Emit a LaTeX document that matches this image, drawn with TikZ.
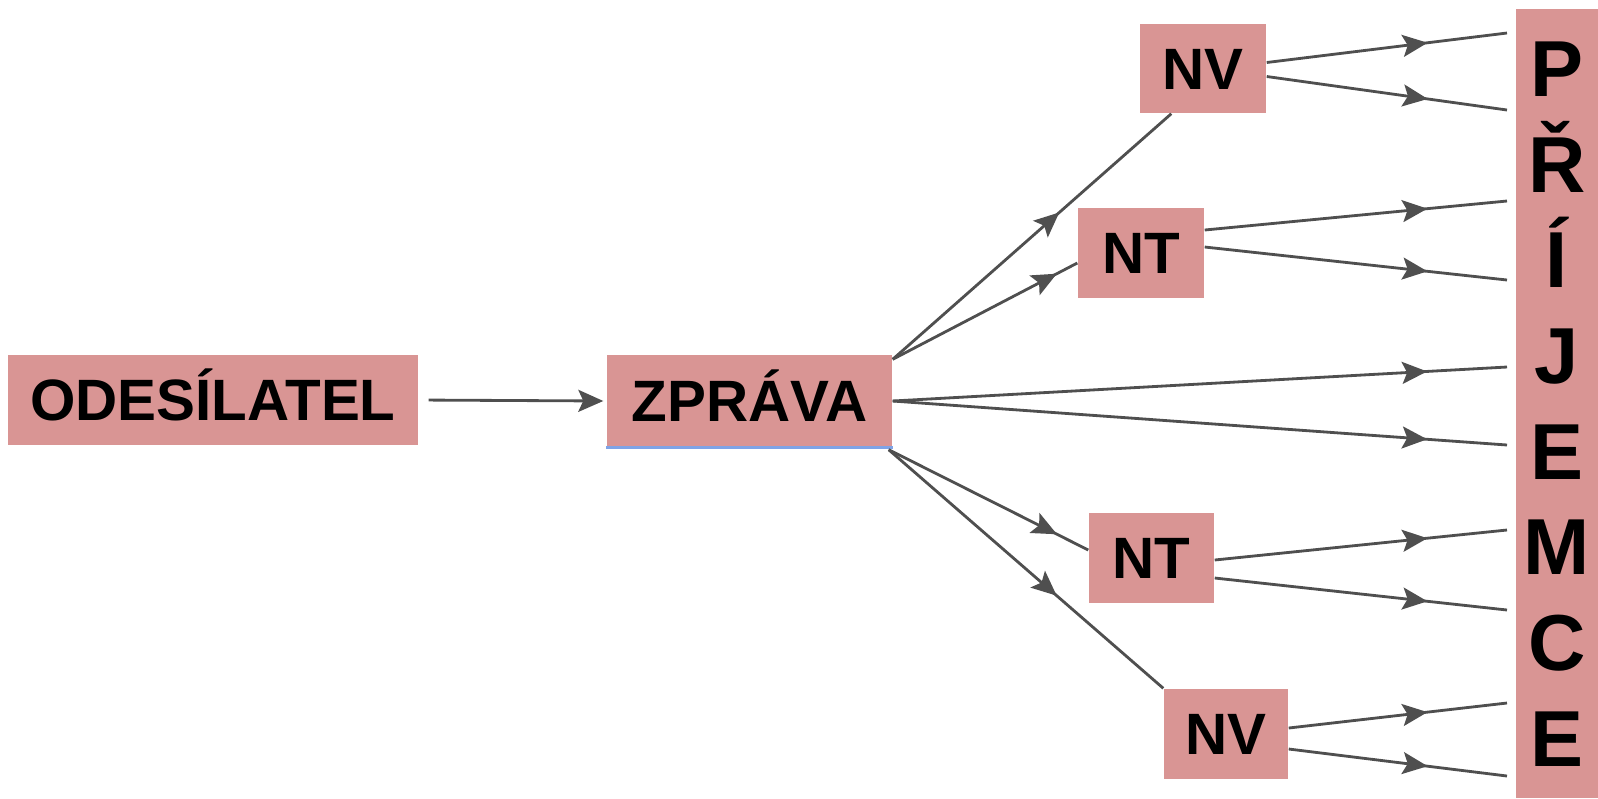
\documentclass[tikz,border=0pt]{standalone}
\usepackage{fontspec}
\setmainfont{Liberation Sans}
\usetikzlibrary{arrows.meta,decorations.markings}

\definecolor{boxred}{HTML}{D99594}
\definecolor{linegray}{HTML}{4F4F4F}
\definecolor{selblue}{HTML}{7FA3E6}

\tikzset{
  box/.style={fill=boxred, inner sep=0pt, text height=11.9pt, text depth=0pt,
    font=\fontsize{16.6}{20}\selectfont\bfseries},
  letter/.style={inner sep=0pt, text height=16.2pt, text depth=0pt,
    font=\fontsize{22.6}{26}\selectfont\bfseries},
  conn/.style={draw=linegray, line width=0.8pt},
  tip/.tip={Stealth[length=2.5mm, width=2.2mm, inset=0.5mm, linegray, fill=linegray]},
  midarr/.style={conn, postaction={decorate},
    decoration={markings, mark=at position #1 with {\arrow{tip}}}}
}

\begin{document}
\begin{tikzpicture}[x=0.1mm, y=-0.1mm]
\useasboundingbox (0,0) rectangle (1598,798);

% odesilatel a zprava
\node[box, minimum width=41mm, minimum height=9mm] (odes) at (213,400) {ODESÍLATEL};
\node[box, minimum width=28.5mm, minimum height=9.2mm] (zpr) at (749.5,401) {ZPRÁVA};
\draw[selblue, line width=0.8pt] (zpr.south west) -- (zpr.south east);

% sumy
\node[box, minimum width=12.6mm, minimum height=8.9mm] (nva) at (1203,68.5) {NV};
\node[box, minimum width=12.6mm, minimum height=9mm] (nta) at (1141,253) {NT};
\node[box, minimum width=12.5mm, minimum height=9mm] (ntb) at (1151.5,558) {NT};
\node[box, minimum width=12.4mm, minimum height=9mm] (nvb) at (1226,734) {NV};

% prijemce
\node[fill=boxred, inner sep=0pt, minimum width=8.2mm, minimum height=78.9mm] (prij) at (1557,403.5) {};
\foreach \ch [count=\i from 0] in {P,Ř,Í,J,E,M,C,E}
  \node[letter] (l\i) at (1557,{68+95.7*\i}) {\ch};

% volne konce car
\coordinate (e1) at (1507,33);
\coordinate (e2) at (1507,110);
\coordinate (e3) at (1507,201);
\coordinate (e4) at (1507,280);
\coordinate (e5) at (1507,367);
\coordinate (e6) at (1507,445);
\coordinate (e7) at (1507,530);
\coordinate (e8) at (1507,610);
\coordinate (e9) at (1507,703);
\coordinate (e10) at (1507,776);

\draw[conn, -{tip}, shorten <=1mm, shorten >=0.3mm] (odes.east) -- (zpr.west);

\draw[midarr=-14.9mm] ([yshift=-0.5mm]zpr.north east) -- ([xshift=3.2mm]nva.south west);
\draw[midarr=-2.3mm] ([yshift=-0.5mm]zpr.north east) -- ([yshift=-1mm]nta.west);
\draw[midarr=-3.5mm] ([xshift=-0.4mm,yshift=-0.2mm]zpr.south east) -- ([yshift=0.8mm]ntb.west);
\draw[midarr=-14mm] ([xshift=-0.4mm,yshift=-0.2mm]zpr.south east) -- (nvb.north west);

\draw[midarr=-8mm] ([yshift=0.6mm]nva.east) -- (e1);
\draw[midarr=-8mm] ([yshift=-0.8mm]nva.east) -- (e2);
\draw[midarr=-8mm] ([yshift=2.3mm]nta.east) -- (e3);
\draw[midarr=-8mm] ([yshift=0.6mm]nta.east) -- (e4);
\draw[midarr=-8mm] (zpr.east) -- (e5);
\draw[midarr=-8mm] (zpr.east) -- (e6);
\draw[midarr=-8mm] ([yshift=-0.2mm]ntb.east) -- (e7);
\draw[midarr=-8mm] ([yshift=-2mm]ntb.east) -- (e8);
\draw[midarr=-8mm] ([yshift=0.6mm]nvb.east) -- (e9);
\draw[midarr=-8mm] ([yshift=-1.5mm]nvb.east) -- (e10);
\end{tikzpicture}
\end{document}
